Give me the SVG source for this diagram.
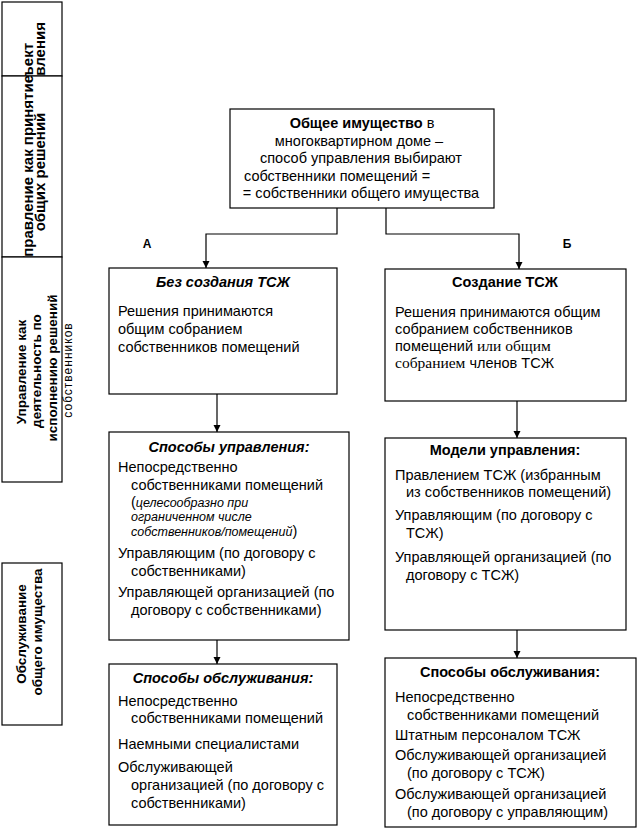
<svg xmlns="http://www.w3.org/2000/svg" width="638" height="828" viewBox="0 0 638 828">
<style>
.box{fill:#fff;stroke:#000;stroke-width:1.2}
.t{font-family:"Liberation Sans",Arial,sans-serif;font-size:14.5px;fill:#000}
.b{font-weight:bold}
.bi{font-weight:bold;font-style:italic}
.sm{font-style:italic;font-size:12.5px}
.ser{font-family:"Liberation Serif","Times New Roman",serif;font-size:15.5px}
.side{font-family:"Liberation Sans",Arial,sans-serif;font-size:13.5px;font-weight:bold;fill:#000}
.big{font-size:15px}
.c{fill:none;stroke:#000;stroke-width:1.2}
.mid{text-anchor:middle}
</style>
<defs>
<marker id="ah" markerUnits="userSpaceOnUse" markerWidth="8" markerHeight="8" refX="7" refY="4" orient="auto">
<path d="M0,0.5 L7,4 L0,7.5 z" fill="#000"/>
</marker>
<clipPath id="cl1"><rect x="2" y="2" width="60" height="74"/></clipPath>
<clipPath id="cl2"><rect x="2" y="76" width="60" height="181"/></clipPath>
</defs>
<rect width="638" height="828" fill="#fff"/>

<g id="side1">
<rect class="box" x="2" y="2" width="60" height="74"/>
<g clip-path="url(#cl1)">
<text class="side big" text-anchor="end" transform="translate(33,43) rotate(-90)">Объект</text>
<text class="side big" text-anchor="end" transform="translate(45,22) rotate(-90)">управления</text>
</g>
</g>
<g id="side2">
<rect class="box" x="2" y="76" width="60" height="181"/>
<g clip-path="url(#cl2)">
<text class="side big" text-anchor="end" transform="translate(33,75) rotate(-90)">Управление как принятие</text>
<text class="side big mid" transform="translate(45,172) rotate(-90)">общих решений</text>
</g>
</g>
<g id="side3">
<rect class="box" x="2" y="257" width="60" height="225"/>
<text class="side mid" transform="translate(26,372) rotate(-90)">Управление как</text>
<text class="side mid" transform="translate(41,371) rotate(-90)">деятельность по</text>
<text class="side mid" transform="translate(57,368) rotate(-90)">исполнению решений</text>
<text class="side mid" style="font-size:12px;font-weight:normal;letter-spacing:1px" transform="translate(72,370) rotate(-90)">собственников</text>
</g>
<g id="side4">
<rect class="box" x="2" y="563" width="60" height="162"/>
<text class="side mid" transform="translate(26,634) rotate(-90)">Обслуживание</text>
<text class="side mid" transform="translate(42,632) rotate(-90)">общего имущества</text>
</g>

<g id="connectors">
<path class="c" d="M337,208 V234 H206 V268" marker-end="url(#ah)"/>
<path class="c" d="M386,208 V234 H519 V269" marker-end="url(#ah)"/>
<path class="c" d="M217,394 V432" marker-end="url(#ah)"/>
<path class="c" d="M517,401 V438" marker-end="url(#ah)"/>
<path class="c" d="M217,640 V664" marker-end="url(#ah)"/>
<path class="c" d="M517,630 V658" marker-end="url(#ah)"/>
<text class="t b mid" style="font-size:12px" x="147" y="248">А</text>
<text class="t b mid" style="font-size:12px" x="567" y="248">Б</text>
</g>

<g id="top">
<rect class="box" x="230" y="109" width="264" height="99"/>
<text class="t mid" x="362" y="128"><tspan class="b">Общее имущество</tspan> в</text>
<text class="t mid" x="359" y="146">многоквартирном доме –</text>
<text class="t mid" x="361" y="163">способ управления выбирают</text>
<text class="t" x="244" y="181">собственники помещений =</text>
<text class="t mid" x="361" y="198">= собственники общего имущества</text>
</g>

<g id="nodeA">
<rect class="box" x="109" y="268" width="228" height="126"/>
<text class="t bi mid" x="223" y="287">Без создания ТСЖ</text>
<text class="t" x="118" y="316">Решения принимаются</text>
<text class="t" x="118" y="334">общим собранием</text>
<text class="t" x="118" y="352">собственников помещений</text>
</g>

<g id="nodeB">
<rect class="box" x="385" y="269" width="241" height="132"/>
<text class="t b mid" x="505" y="287">Создание ТСЖ</text>
<text class="t" x="395" y="317">Решения принимаются общим</text>
<text class="t" x="395" y="334">собранием собственников</text>
<text class="t" x="395" y="351">помещений <tspan class="ser">или общим</tspan></text>
<text class="t" x="395" y="368"><tspan class="ser">собранием</tspan> членов ТСЖ</text>
</g>

<g id="nodeA2">
<rect class="box" x="109" y="432" width="240" height="208"/>
<text class="t bi mid" x="229" y="452">Способы управления:</text>
<text class="t" x="118" y="472">Непосредственно</text>
<text class="t" x="131" y="490">собственниками помещений</text>
<text class="t" x="131" y="507">(<tspan class="sm">целесообразно при</tspan></text>
<text class="t sm" x="131" y="521">ограниченном числе</text>
<text class="t" x="131" y="536"><tspan class="sm">собственников/помещений</tspan>)</text>
<text class="t" x="118" y="558">Управляющим (по договору с</text>
<text class="t" x="131" y="576">собственниками)</text>
<text class="t" x="118" y="597">Управляющей организацией (по</text>
<text class="t" x="131" y="615">договору с собственниками)</text>
</g>

<g id="nodeB2">
<rect class="box" x="385" y="438" width="241" height="192"/>
<text class="t b mid" x="505" y="455">Модели управления:</text>
<text class="t" x="395" y="480">Правлением ТСЖ (избранным</text>
<text class="t" x="406" y="497">из собственников помещений)</text>
<text class="t" x="395" y="520">Управляющим (по договору с</text>
<text class="t" x="406" y="538">ТСЖ)</text>
<text class="t" x="395" y="562">Управляющей организацией (по</text>
<text class="t" x="406" y="580">договору с ТСЖ)</text>
</g>

<g id="nodeA3">
<rect class="box" x="109" y="664" width="228" height="161"/>
<text class="t bi mid" x="223" y="683">Способы обслуживания:</text>
<text class="t" x="118" y="706">Непосредственно</text>
<text class="t" x="131" y="723">собственниками помещений</text>
<text class="t" x="118" y="749">Наемными специалистами</text>
<text class="t" x="118" y="772">Обслуживающей</text>
<text class="t" x="131" y="790">организацией (по договору с</text>
<text class="t" x="131" y="808">собственниками)</text>
</g>

<g id="nodeB3">
<rect class="box" x="385" y="658" width="251" height="169"/>
<text class="t b mid" x="510" y="677">Способы обслуживания:</text>
<text class="t" x="395" y="702">Непосредственно</text>
<text class="t" x="407" y="720">собственниками помещений</text>
<text class="t" x="395" y="740">Штатным персоналом ТСЖ</text>
<text class="t" x="395" y="760">Обслуживающей организацией</text>
<text class="t" x="407" y="778">(по договору с ТСЖ)</text>
<text class="t" x="395" y="799">Обслуживающей организацией</text>
<text class="t" x="407" y="817">(по договору с управляющим)</text>
</g>
</svg>
